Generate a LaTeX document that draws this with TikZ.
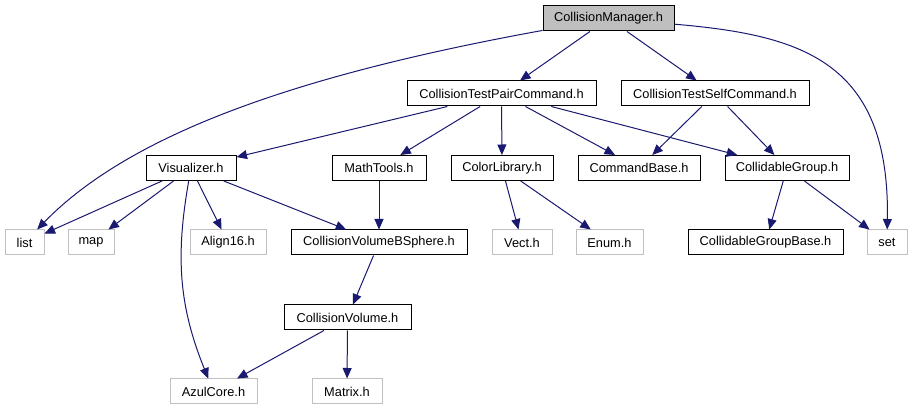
\documentclass[tikz,border=0pt]{standalone}
\usepackage{fontspec}
\setmainfont{Liberation Sans}
\usetikzlibrary{arrows.meta}
\definecolor{edgeblue}{HTML}{191970}
\definecolor{rootgrey}{HTML}{BFBFBF}
\definecolor{missgrey}{HTML}{C0C0C0}
\begin{document}
\begin{tikzpicture}[x=1pt, y=1pt,
    file/.style={draw=black, line width=1pt, inner sep=0pt, minimum height=25pt, font=\fontsize{12.8}{15}\selectfont},
    extfile/.style={file, draw=missgrey},
    edge/.style={-{Triangle[length=10.5pt,width=9pt]}, line width=1pt, color=edgeblue}]
    \useasboundingbox (0,0) rectangle (913,-411);
    % Draw files
    \node [file, fill=rootgrey, minimum width=131pt] (cm) at (608.5,-18.5) {CollisionManager.h};
    \node [file, minimum width=189pt] (ctpc) at (501.5,-93.5) {CollisionTestPairCommand.h};
    \node [file, minimum width=188pt] (ctsc) at (715,-93.5) {CollisionTestSelfCommand.h};
    \node [file, minimum width=90pt] (vis) at (191,-168) {Visualizer.h};
    \node [file, minimum width=94pt] (math) at (379,-168) {MathTools.h};
    \node [file, minimum width=102pt] (color) at (502,-168) {ColorLibrary.h};
    \node [file, minimum width=122pt] (cmdb) at (639,-168) {CommandBase.h};
    \node [file, minimum width=124pt] (cgrp) at (787,-168) {CollidableGroup.h};
    \node [extfile, minimum width=39pt] (list) at (24.5,-242.5) {list};
    \node [extfile, minimum width=46pt] (map) at (91,-242.5) {map};
    \node [extfile, minimum width=76pt] (align) at (228,-242.5) {Align16.h};
    \node [file, minimum width=176pt] (cvbs) at (379,-242.5) {CollisionVolumeBSphere.h};
    \node [extfile, minimum width=60pt] (vect) at (522,-242.5) {Vect.h};
    \node [extfile, minimum width=67pt] (enum) at (609.5,-242.5) {Enum.h};
    \node [file, minimum width=155pt] (cgb) at (765.5,-242.5) {CollidableGroupBase.h};
    \node [extfile, minimum width=40pt] (set) at (887,-242.5) {set};
    \node [file, minimum width=127pt] (cv) at (347.5,-317.5) {CollisionVolume.h};
    \node [extfile, minimum width=87pt] (azul) at (213.5,-391.5) {AzulCore.h};
    \node [extfile, minimum width=70pt] (matrix) at (347,-391.5) {Matrix.h};
    % Draw includes
    \draw [edge] (cm) .. controls (297,-75) and (130,-134) .. (list);
    \draw [edge] (cm) -- (ctpc);
    \draw [edge] (cm) -- (ctsc);
    \draw [edge] (cm) .. controls (800,-35) and (890,-60) .. (set);
    \draw [edge] (ctpc) -- (vis);
    \draw [edge] (ctpc) -- (math);
    \draw [edge] (ctpc) -- (color);
    \draw [edge] (ctpc) -- (cmdb);
    \draw [edge] (ctpc) -- (cgrp);
    \draw [edge] (ctsc) -- (cmdb);
    \draw [edge] (ctsc) -- (cgrp);
    \draw [edge] (vis) -- (list);
    \draw [edge] (vis) -- (map);
    \draw [edge] (vis) -- (align);
    \draw [edge] (vis) -- (cvbs);
    \draw [edge] (vis) to [out=-100, in=112] (azul);
    \draw [edge] (math) -- (cvbs);
    \draw [edge] (color) -- (vect);
    \draw [edge] (color) -- (enum);
    \draw [edge] (cgrp) -- (cgb);
    \draw [edge] (cgrp) -- (set);
    \draw [edge] (cvbs) -- (cv);
    \draw [edge] (cv) -- (azul);
    \draw [edge] (cv) -- (matrix);
\end{tikzpicture}
\end{document}
